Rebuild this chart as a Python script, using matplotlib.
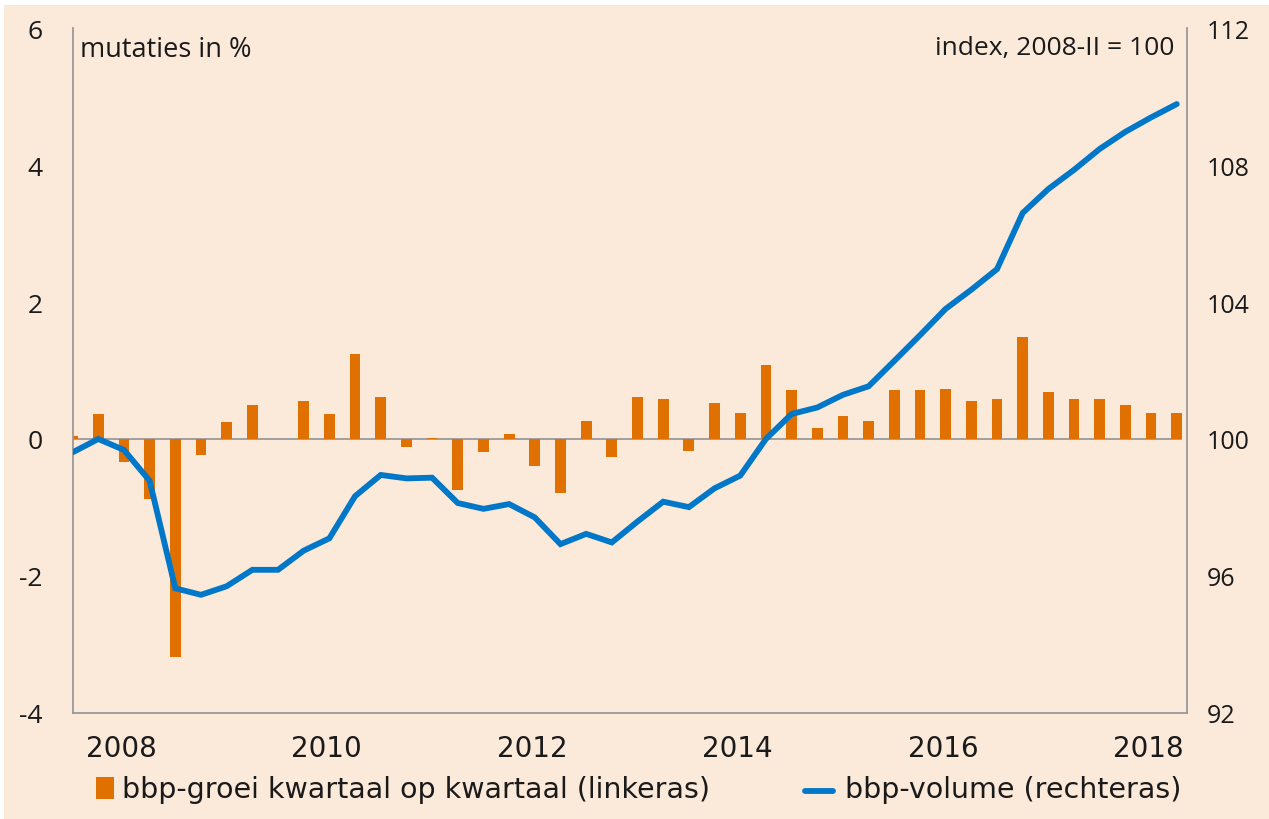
import numpy as np
import matplotlib
matplotlib.use("Agg")
from matplotlib import pyplot as plt
from matplotlib.patches import Rectangle
from matplotlib.lines import Line2D

# quarterly data, 2008-I .. 2018-IV
growth = [0.05, 0.36, -0.34, -0.87, -3.19, -0.23, 0.25, 0.49, 0.0, 0.56, 0.36,
          1.24, 0.62, -0.11, 0.02, -0.75, -0.19, 0.07, -0.40, -0.79, 0.27, -0.26,
          0.61, 0.59, -0.18, 0.53, 0.38, 1.08, 0.72, 0.16, 0.33, 0.26, 0.71,
          0.72, 0.73, 0.55, 0.59, 1.49, 0.69, 0.59, 0.59, 0.49, 0.38, 0.38]
volume = [99.61, 100.0, 99.68, 98.78, 95.64, 95.45, 95.70, 96.18, 96.18, 96.74,
          97.10, 98.33, 98.95, 98.85, 98.87, 98.13, 97.96, 98.10, 97.71, 96.93,
          97.23, 96.98, 97.59, 98.17, 98.01, 98.56, 98.93, 100.0, 100.73, 100.92,
          101.29, 101.54, 102.28, 103.03, 103.80, 104.36, 104.96, 106.60, 107.30,
          107.86, 108.47, 108.97, 109.39, 109.78]
years = [2008, 2010, 2012, 2014, 2016, 2018]
left_ticks = [-4, -2, 0, 2, 4, 6]
right_ticks = [92, 96, 100, 104, 108, 112]

bg = '#fbe9da'
orange = '#e07000'
blue = '#0077c8'
grey = '#9a9a9a'
txt = '#1a1a1a'

plt.rcParams['font.family'] = ['DejaVu Sans']

fig = plt.figure(figsize=(12.69, 8.2), dpi=100, facecolor='white')
fig.patches.append(Rectangle((0.003, 0.0), 0.997, 0.993, transform=fig.transFigure,
                             facecolor=bg, edgecolor='none', zorder=-10))

ax = fig.add_axes([0.0572, 0.1293, 0.8782, 0.8353])
ax.set_facecolor('none')
x = np.arange(len(growth))
ax.bar(x, growth, width=0.42, color=orange, zorder=2)
ax.hlines(0, 0, len(growth) - 0.8, color=grey, lw=1.3, zorder=1)
ax.set_xlim(0, 43.4)
ax.set_ylim(-4, 6)
ax.set_yticks(left_ticks)
ax.set_yticklabels([str(t) for t in left_ticks], fontsize=19, color=txt,
                   family=['Open Sans', 'DejaVu Sans'])
ax.tick_params(axis='y', length=0, pad=21.5)
ax.set_xticks([(y - 2008) * 4 + 1.9 for y in years])
ax.set_xticklabels([str(y) for y in years], fontsize=20, color=txt)
ax.tick_params(axis='x', length=0, pad=15)
for s in ['left', 'right', 'bottom']:
    ax.spines[s].set_color(grey)
    ax.spines[s].set_linewidth(1.3)
ax.spines['top'].set_visible(False)

ax2 = ax.twinx()
ax2.plot(x, volume, color=blue, lw=4.2, solid_capstyle='round',
         solid_joinstyle='miter', zorder=3)
ax2.set_ylim(92, 112)
ax2.set_yticks(right_ticks)
ax2.set_yticklabels([str(t) for t in right_ticks], fontsize=18, color=txt,
                    family=['Open Sans', 'DejaVu Sans'])
ax2.tick_params(axis='y', length=0, pad=14.5)
for s in ['top', 'left', 'bottom', 'right']:
    ax2.spines[s].set_visible(False)

ax.text(0.007, 0.99, 'mutaties in %', transform=ax.transAxes, ha='left', va='top',
        fontsize=19.5, color=txt, family=['Open Sans', 'DejaVu Sans'])
ax.text(0.989, 0.99, 'index, 2008-II = 100', transform=ax.transAxes, ha='right',
        va='top', fontsize=19, color=txt, family=['Open Sans', 'DejaVu Sans'])

# legend drawn by hand so the two keys keep their own sizes
fig.patches.append(Rectangle((0.0757, 0.0244), 0.0142, 0.0268, transform=fig.transFigure,
                             facecolor=orange, edgecolor='none'))
fig.text(0.0961, 0.0366, 'bbp-groei kwartaal op kwartaal (linkeras)', ha='left',
         va='center', fontsize=20.5, color=txt)
fig.lines.append(Line2D([0.6345, 0.6565], [0.0341, 0.0341], transform=fig.transFigure,
                        color=blue, lw=4.2, solid_capstyle='round'))
fig.text(0.6659, 0.0366, 'bbp-volume (rechteras)', ha='left', va='center',
         fontsize=20.5, color=txt)

fig.savefig('out.png', dpi=100, facecolor=fig.get_facecolor())
